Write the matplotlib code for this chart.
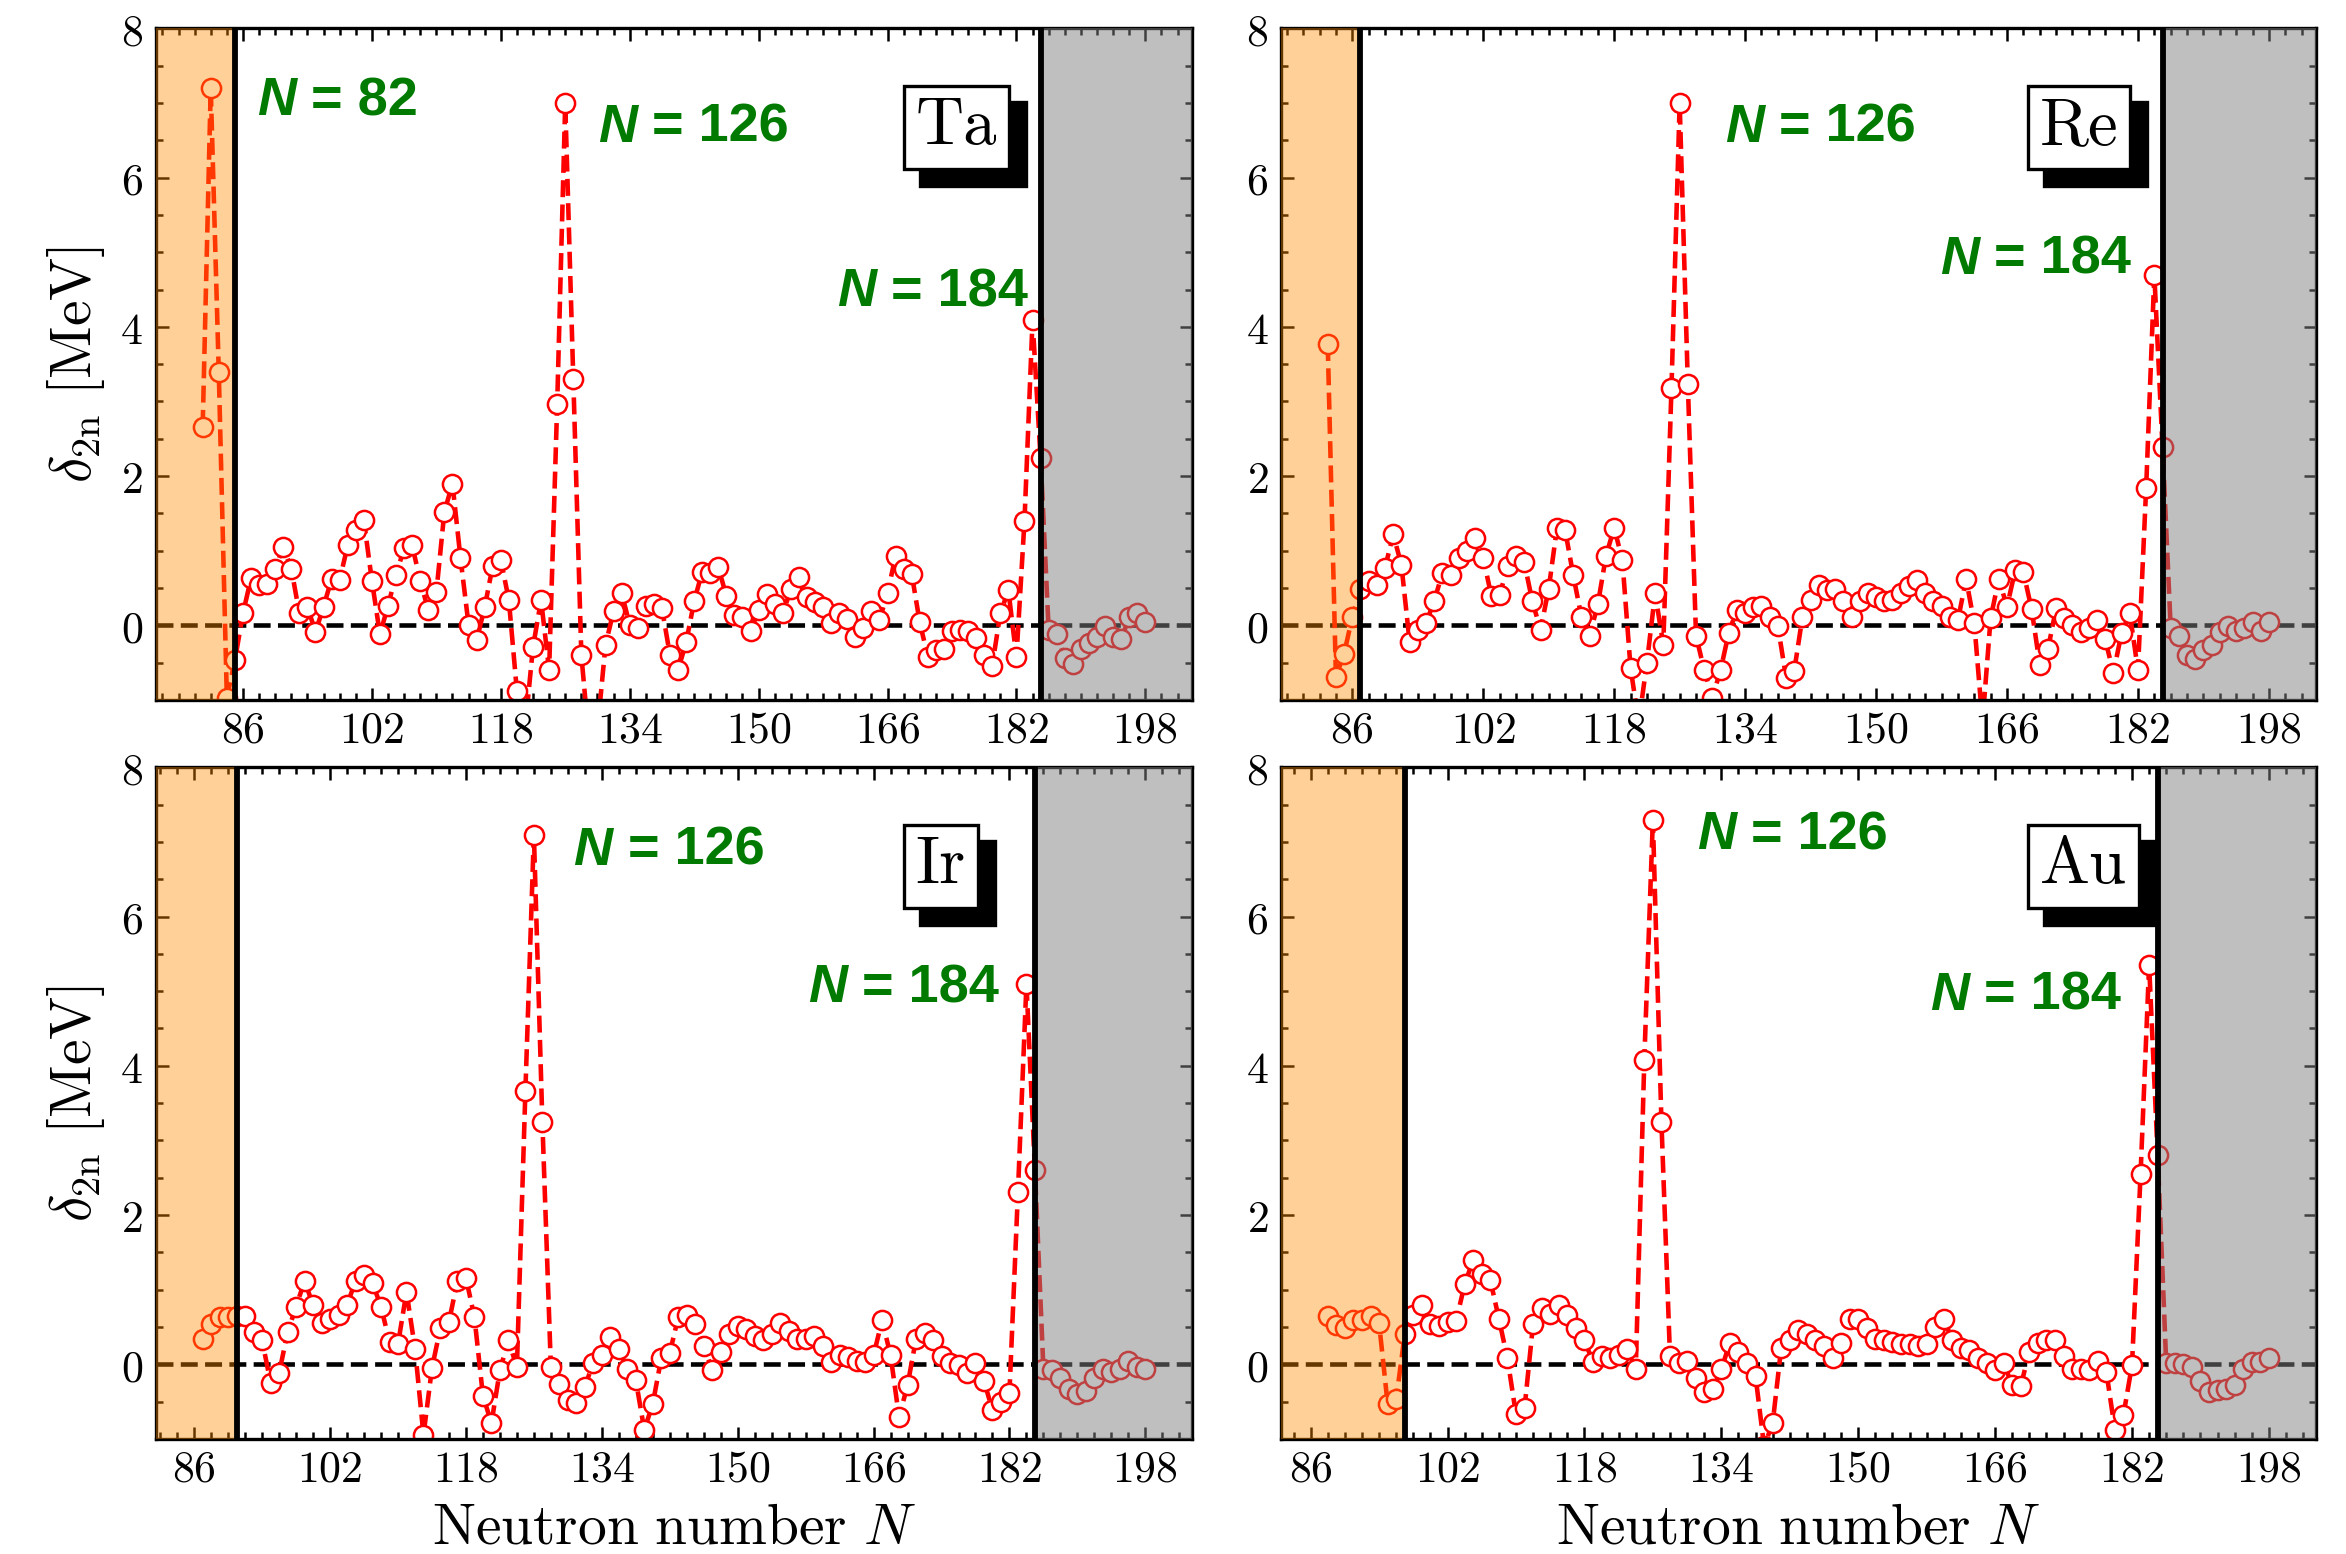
import numpy as np
import matplotlib
matplotlib.use("Agg")
import matplotlib.pyplot as plt
from matplotlib.patches import Rectangle
from matplotlib.ticker import FixedLocator, MultipleLocator, FuncFormatter

plt.rcParams['mathtext.fontset'] = 'cm'
plt.rcParams['font.family'] = ['DejaVu Serif']

# ---------------- data (delta_2n in MeV, one value per neutron number) ----------------
ta_n_first = 81
ta_d2n = [2.66, 7.20, 3.39, -0.97, -0.47, 0.16, 0.63, 0.54, 0.56, 0.76,
          1.05, 0.76, 0.16, 0.25, -0.09, 0.25, 0.62, 0.61, 1.07, 1.28,
          1.41, 0.60, -0.12, 0.26, 0.68, 1.03, 1.07, 0.60, 0.20, 0.44,
          1.52, 1.90, 0.90, 0.01, -0.20, 0.24, 0.80, 0.88, 0.34, -0.88,
          -1.40, -0.29, 0.34, -0.60, 2.96, 7.00, 3.30, -0.40, -1.60, -1.40,
          -0.26, 0.19, 0.43, 0.01, -0.04, 0.26, 0.29, 0.23, -0.40, -0.60,
          -0.23, 0.32, 0.72, 0.70, 0.78, 0.39, 0.14, 0.11, -0.08, 0.20,
          0.42, 0.28, 0.16, 0.48, 0.65, 0.38, 0.31, 0.25, 0.03, 0.16,
          0.08, -0.16, -0.04, 0.19, 0.07, 0.43, 0.93, 0.75, 0.69, 0.04,
          -0.42, -0.33, -0.32, -0.08, -0.06, -0.07, -0.17, -0.40, -0.54, 0.16,
          0.47, -0.43, 1.40, 4.09, 2.24, -0.06, -0.12, -0.44, -0.52, -0.32,
          -0.24, -0.15, -0.01, -0.15, -0.19, 0.11, 0.16, 0.05]

re_n_first = 83
re_d2n = [3.77, -0.69, -0.38, 0.11, 0.49, 0.59, 0.54, 0.77, 1.22, 0.81,
          -0.22, -0.06, 0.03, 0.32, 0.70, 0.68, 0.90, 0.99, 1.17, 0.90,
          0.39, 0.41, 0.79, 0.93, 0.85, 0.32, -0.06, 0.49, 1.30, 1.28,
          0.67, 0.11, -0.14, 0.28, 0.93, 1.31, 0.87, -0.57, -1.30, -0.50,
          0.43, -0.26, 3.18, 7.00, 3.23, -0.14, -0.60, -0.97, -0.60, -0.10,
          0.21, 0.16, 0.24, 0.26, 0.11, -0.01, -0.70, -0.61, 0.11, 0.34,
          0.54, 0.47, 0.48, 0.33, 0.11, 0.33, 0.43, 0.38, 0.32, 0.34,
          0.43, 0.53, 0.61, 0.43, 0.32, 0.26, 0.11, 0.07, 0.62, 0.03,
          -1.30, 0.10, 0.62, 0.25, 0.74, 0.71, 0.22, -0.53, -0.32, 0.23,
          0.10, 0.00, -0.09, -0.04, 0.07, -0.19, -0.64, -0.10, 0.16, -0.60,
          1.84, 4.70, 2.39, -0.04, -0.14, -0.40, -0.45, -0.33, -0.26, -0.09,
          -0.01, -0.07, -0.04, 0.04, -0.07, 0.04]

ir_n_first = 87
ir_d2n = [0.34, 0.54, 0.63, 0.63, 0.65, 0.64, 0.43, 0.32, -0.25, -0.12,
          0.43, 0.77, 1.12, 0.79, 0.55, 0.60, 0.66, 0.79, 1.12, 1.19,
          1.09, 0.77, 0.30, 0.27, 0.97, 0.21, -0.95, -0.05, 0.49, 0.57,
          1.12, 1.16, 0.63, -0.42, -0.79, -0.08, 0.32, -0.04, 3.66, 7.10,
          3.25, -0.04, -0.27, -0.48, -0.52, -0.30, 0.02, 0.12, 0.36, 0.20,
          -0.07, -0.21, -0.88, -0.53, 0.08, 0.15, 0.63, 0.66, 0.54, 0.25,
          -0.08, 0.16, 0.41, 0.51, 0.47, 0.38, 0.32, 0.41, 0.55, 0.45,
          0.34, 0.34, 0.38, 0.24, 0.03, 0.13, 0.10, 0.05, 0.03, 0.12,
          0.59, 0.12, -0.71, -0.28, 0.34, 0.42, 0.32, 0.11, 0.02, -0.01,
          -0.12, 0.01, -0.22, -0.62, -0.50, -0.38, 2.31, 5.10, 2.60, -0.07,
          -0.08, -0.18, -0.33, -0.40, -0.36, -0.18, -0.06, -0.10, -0.06, 0.04,
          -0.04, -0.06]

au_n_first = 88
au_d2n = [0.64, 0.52, 0.49, 0.59, 0.59, 0.64, 0.55, -0.53, -0.47, 0.40,
          0.66, 0.79, 0.54, 0.51, 0.57, 0.58, 1.07, 1.40, 1.21, 1.13,
          0.61, 0.08, -0.67, -0.59, 0.54, 0.75, 0.67, 0.79, 0.66, 0.48,
          0.32, 0.03, 0.11, 0.09, 0.12, 0.20, -0.07, 4.08, 7.30, 3.25,
          0.11, 0.02, 0.04, -0.18, -0.37, -0.33, -0.07, 0.29, 0.17, 0.01,
          -0.16, -1.10, -0.79, 0.22, 0.32, 0.46, 0.41, 0.32, 0.25, 0.08,
          0.29, 0.60, 0.60, 0.48, 0.34, 0.32, 0.30, 0.27, 0.27, 0.25,
          0.27, 0.50, 0.60, 0.33, 0.22, 0.19, 0.08, 0.01, -0.08, 0.01,
          -0.28, -0.29, 0.17, 0.28, 0.32, 0.33, 0.11, -0.06, -0.06, -0.08,
          0.05, -0.10, -0.88, -0.68, -0.01, 2.55, 5.35, 2.80, 0.01, 0.01,
          0.00, -0.04, -0.22, -0.37, -0.35, -0.33, -0.28, -0.06, 0.03, 0.03,
          0.09]

# drip lines (neutron numbers)
ta_drip = [85, 185]
re_drip = [87, 185]
ir_drip = [91, 185]
au_drip = [97, 185]

# magic-number labels shown in each panel
ta_magic = ['82', '126', '184']
re_magic = ['126', '184']
ir_magic = ['126', '184']
au_magic = ['126', '184']

x_tick_values = [86, 102, 118, 134, 150, 166, 182, 198]
y_tick_values = [0, 2, 4, 6, 8]

# ---------------- layout ----------------
fig = plt.figure(figsize=(7.82, 5.18), dpi=300)
axes_rects = {
    'Ta': [0.0663, 0.5496, 0.4420, 0.4321],
    'Re': [0.5459, 0.5496, 0.4413, 0.4321],
    'Ir': [0.0663, 0.0741, 0.4420, 0.4321],
    'Au': [0.5459, 0.0741, 0.4413, 0.4321],
}
magic_pos = {
    'Ta': [(0.098, 0.871), (0.427, 0.831), (0.657, 0.586)],
    'Re': [(0.429, 0.831), (0.637, 0.635)],
    'Ir': [(0.403, 0.855), (0.629, 0.650)],
    'Au': [(0.402, 0.878), (0.627, 0.639)],
}

panels = [
    ('Ta', ta_n_first, ta_d2n, ta_drip, ta_magic, True, False),
    ('Re', re_n_first, re_d2n, re_drip, re_magic, False, False),
    ('Ir', ir_n_first, ir_d2n, ir_drip, ir_magic, True, True),
    ('Au', au_n_first, au_d2n, au_drip, au_magic, False, True),
]

GREEN = '#007a00'
MAGIC_FS = 13.0


def magic_label(ax, num, x, y):
    t1 = ax.text(x, y, 'N', transform=ax.transAxes, fontsize=MAGIC_FS,
                 fontweight='bold', fontstyle='italic', color=GREEN,
                 family='Liberation Sans', ha='left', va='baseline', zorder=8)
    ax.annotate('= ' + num, xy=(1, 0), xycoords=t1, xytext=(3.6, 0),
                textcoords='offset points', fontsize=MAGIC_FS,
                fontweight='bold', color=GREEN, family='Liberation Sans',
                ha='left', va='bottom', zorder=8)


element_texts = []


def element_label(ax, name):
    t = ax.text(0.733, 0.897, name, transform=ax.transAxes, color='black',
                ha='left', va='top', fontsize=16, family='cmr10', zorder=9,
                bbox=dict(boxstyle='square,pad=0.18', fc='white', ec='black', lw=0.8))
    element_texts.append((ax, t))


for name, n0, vals, drip, magics, show_ylabel, show_xlabel in panels:
    ax = fig.add_axes(axes_rects[name])
    N = np.arange(n0, n0 + len(vals))
    span = N[-1] - N[0]
    xlo, xhi = N[0] - 0.05 * span, N[-1] + 0.05 * span

    ax.axhline(0, color='black', ls='--', lw=1.1, zorder=1)
    ax.plot(N, vals, ls='--', color='red', lw=1.1, marker='o', ms=4.6,
            mfc='white', mec='red', mew=0.6, zorder=2)
    ax.axvspan(xlo, drip[0], color='darkorange', alpha=0.4, lw=0, zorder=3)
    ax.axvspan(drip[1], xhi, color='gray', alpha=0.5, lw=0, zorder=3)
    ax.axvline(drip[0], color='black', lw=1.4, zorder=4)
    ax.axvline(drip[1], color='black', lw=1.4, zorder=4)

    ax.set_xlim(xlo, xhi)
    ax.set_ylim(-1, 8)

    ax.xaxis.set_major_locator(FixedLocator(x_tick_values))
    ax.xaxis.set_minor_locator(MultipleLocator(2))
    ax.yaxis.set_major_locator(FixedLocator(y_tick_values))
    ax.yaxis.set_minor_locator(MultipleLocator(0.5))
    fmt = FuncFormatter(lambda v, p: r'$%d$' % int(round(v)))
    ax.xaxis.set_major_formatter(fmt)
    ax.yaxis.set_major_formatter(fmt)
    ax.tick_params(which='both', direction='in', top=True, right=True, width=0.6)
    ax.tick_params(which='major', length=3.0, labelsize=10.5)
    ax.tick_params(axis='x', which='major', pad=2.0)
    ax.tick_params(axis='y', which='major', pad=3.0)
    ax.tick_params(which='minor', length=1.7)
    for s in ax.spines.values():
        s.set_linewidth(0.8)

    if show_ylabel:
        ax.set_ylabel(r'$\delta_{\mathrm{2n}}\ [\mathrm{MeV}]$', fontsize=13.8)
        ax.yaxis.set_label_coords(-0.047, 0.5)
    if show_xlabel:
        ax.set_xlabel(r'$\mathrm{Neutron\ number}\ N$', fontsize=13.8)
        ax.xaxis.set_label_coords(0.5, -0.09)

    for num, (px, py) in zip(magics, magic_pos[name]):
        magic_label(ax, num, px, py)
    element_label(ax, name)

# shadow boxes behind the element labels (drawn as patches, offset down-right)
fig.canvas.draw()
renderer = fig.canvas.get_renderer()
off_px = 4.0 * fig.dpi / 72.0
for ax, t in element_texts:
    bb = t.get_bbox_patch().get_window_extent(renderer)
    inv = ax.transAxes.inverted()
    (x0, y0) = inv.transform((bb.x0 + off_px, bb.y0 - off_px))
    (x1, y1) = inv.transform((bb.x1 + off_px, bb.y1 - off_px))
    ax.add_patch(Rectangle((x0, y0), x1 - x0, y1 - y0, transform=ax.transAxes,
                           fc='black', ec='black', lw=0.8, zorder=8.5, clip_on=False))

fig.savefig('out.png', dpi=300)
